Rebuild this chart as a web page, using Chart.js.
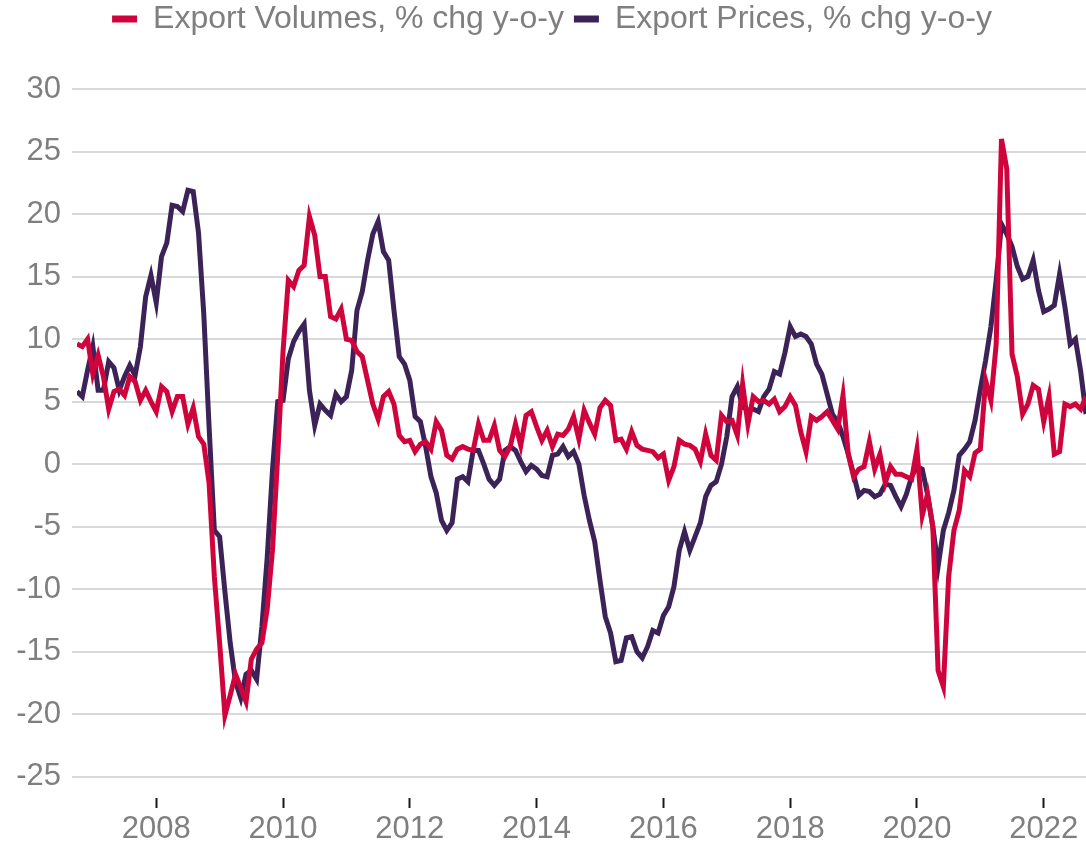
<!DOCTYPE html>
<html>
<head>
<meta charset="utf-8">
<script src="https://cdn.jsdelivr.net/npm/chart.js@4"></script>
<style>
  html, body { margin: 0; padding: 0; background: #fff; }
  #wrap { width: 1086px; height: 846px; }
</style>
</head>
<body>
<div id="wrap"><canvas id="exportChart" width="1086" height="846"></canvas></div>
<script>
// Monthly series, Oct 2006 - Sep 2022
const firstYear = 2006;
const firstMonth = 10;

// Export volumes, % chg y-o-y
const volumes = [
    9.6, 9.4, 10.0, 7.2, 8.7, 7.0, 4.4, 5.8, 6.0, 5.5,
    7.0, 6.6, 5.1, 5.9, 5.0, 4.2, 6.2, 5.8, 4.2, 5.4,
    5.4, 3.2, 4.5, 2.2, 1.6, -1.5, -9.0, -14.3, -20.1, -18.5,
    -16.8, -17.9, -19.0, -15.6, -14.8, -14.3, -11.6, -6.9, 0.7, 9.0,
    14.7, 14.2, 15.5, 15.9, 19.8, 18.3, 15.0, 15.0, 11.8, 11.6,
    12.4, 10.0, 9.9, 9.0, 8.6, 6.7, 4.8, 3.6, 5.4, 5.8,
    4.8, 2.3, 1.8, 1.9, 1.0, 1.6, 1.8, 1.2, 3.4, 2.7,
    0.7, 0.4, 1.2, 1.4, 1.2, 1.1, 3.2, 1.9, 1.9, 3.1,
    1.1, 0.6, 1.4, 3.2, 1.5, 3.9, 4.2, 3.0, 1.9, 2.7,
    1.4, 2.4, 2.3, 2.8, 3.8, 2.0, 4.3, 3.3, 2.4, 4.5,
    5.1, 4.7, 1.9, 2.0, 1.2, 2.6, 1.5, 1.2, 1.1, 1.0,
    0.5, 0.8, -1.3, -0.2, 1.9, 1.6, 1.5, 1.2, 0.2, 2.4,
    0.7, 0.3, 3.9, 3.4, 3.5, 2.3, 6.4, 3.2, 5.4, 5.0,
    5.1, 4.8, 5.2, 4.2, 4.6, 5.4, 4.7, 2.6, 1.0, 3.8,
    3.5, 3.8, 4.2, 3.5, 2.8, 5.5, 0.8, -1.0, -0.4, -0.2,
    1.8, -0.4, 0.8, -1.5, -0.2, -0.8, -0.8, -1.0, -1.2, 1.2,
    -4.1, -2.4, -5.0, -16.5, -17.8, -9.0, -5.3, -3.7, -0.5, -1.0,
    0.9, 1.2, 6.7, 5.1, 9.6, 26.0, 23.6, 8.8, 7.0, 4.0,
    4.8, 6.3, 6.0, 3.4, 5.4, 0.8, 1.0, 4.8, 4.6, 4.8,
    4.4, 5.4
];

// Export prices, % chg y-o-y
const prices = [
    5.8, 5.4, 7.5, 9.4, 5.9, 5.9, 8.2, 7.7, 5.9, 7.0,
    7.9, 7.1, 9.4, 13.4, 15.1, 12.9, 16.6, 17.7, 20.7, 20.6,
    20.2, 21.9, 21.8, 18.5, 12.0, 3.0, -5.3, -5.8, -10.2, -14.3,
    -17.4, -18.7, -16.8, -16.5, -17.2, -13.0, -7.5, -0.5, 5.0, 5.1,
    8.4, 9.8, 10.6, 11.2, 5.9, 3.1, 4.8, 4.3, 3.9, 5.6,
    5.0, 5.4, 7.5, 12.3, 13.8, 16.3, 18.4, 19.4, 17.0, 16.3,
    12.3, 8.6, 8.0, 6.7, 3.8, 3.4, 1.4, -1.0, -2.3, -4.5,
    -5.3, -4.7, -1.2, -1.0, -1.4, 1.1, 1.1, 0.0, -1.2, -1.7,
    -1.2, 1.1, 1.4, 1.1, 0.2, -0.6, -0.1, -0.4, -0.9, -1.0,
    0.7, 0.8, 1.4, 0.6, 1.0, 0.0, -2.5, -4.5, -6.2, -9.3,
    -12.2, -13.5, -15.8, -15.7, -13.9, -13.8, -15.0, -15.5, -14.6, -13.3,
    -13.5, -12.1, -11.4, -9.8, -6.9, -5.4, -6.9, -5.8, -4.7, -2.6,
    -1.7, -1.4, 0.0, 2.2, 5.4, 6.2, 4.6, 4.3, 4.4, 4.2,
    5.4, 6.0, 7.4, 7.2, 8.9, 11.0, 10.2, 10.4, 10.2, 9.6,
    8.0, 7.2, 5.6, 4.0, 3.4, 2.2, 0.8, -0.8, -2.5, -2.1,
    -2.2, -2.6, -2.4, -1.6, -1.7, -2.6, -3.4, -2.4, -1.0, -0.2,
    -0.4, -2.4, -5.0, -8.2, -5.3, -3.9, -2.1, 0.7, 1.2, 1.8,
    3.5, 6.0, 8.3, 11.0, 14.7, 19.2, 18.4, 17.4, 15.8, 14.8,
    15.0, 16.3, 13.9, 12.2, 12.4, 12.7, 15.2, 12.6, 9.6, 10.0,
    7.4, 4.0
];

// Month labels (YYYY-MM), one per value
const months = [];
for (let i = 0; i < volumes.length; i++) {
    const m = firstMonth - 1 + i;
    const y = firstYear + Math.floor(m / 12);
    months.push(y + '-' + String(m % 12 + 1).padStart(2, '0'));
}

const seriesNames = ['Export Volumes, % chg y-o-y', 'Export Prices, % chg y-o-y'];
const seriesColors = ['#d0043c', '#3b2358'];

// 'YYYY-MM' -> decimal year for the linear x axis
function toYear(label) {
    const parts = label.split('-');
    return Number(parts[0]) + (Number(parts[1]) - 1) / 12;
}

function points(values) {
    return values.map((v, i) => ({ x: toYear(months[i]), y: v }));
}

const grey = '#7f7f7f';
const fontFamily = "'Liberation Sans', Arial, sans-serif";

// Fix the legend band height and nudge it sideways
const legendBand = {
    id: 'legendBand',
    beforeInit(chart) {
        const fit = chart.legend.fit;
        chart.legend.fit = function () {
            fit.call(this);
            this.height = 96;
        };
    },
    afterLayout(chart) {
        chart.legend.left += 9;
        chart.legend.right += 9;
    }
};

new Chart(document.getElementById('exportChart'), {
    type: 'line',
    data: {
        datasets: [{
            label: seriesNames[0],
            data: points(volumes),
            borderColor: seriesColors[0],
            backgroundColor: seriesColors[0],
            borderWidth: 5,
            pointRadius: 0,
            tension: 0
        }, {
            label: seriesNames[1],
            data: points(prices),
            borderColor: seriesColors[1],
            backgroundColor: seriesColors[1],
            borderWidth: 5,
            pointRadius: 0,
            tension: 0
        }]
    },
    options: {
        responsive: false,
        animation: false,
        devicePixelRatio: 1,
        layout: { padding: { top: -7, left: 0, right: 0, bottom: 0 } },
        plugins: {
            tooltip: { enabled: false },
            legend: {
                position: 'top',
                labels: {
                    color: grey,
                    font: { family: fontFamily, size: 32 },
                    boxWidth: 25,
                    boxHeight: 7,
                    padding: 10,
                    generateLabels(c) {
                        return Chart.defaults.plugins.legend.labels.generateLabels(c)
                            .map(item => ({ ...item, lineWidth: 0 }));
                    }
                }
            }
        },
        scales: {
            x: {
                type: 'linear',
                min: toYear(months[0]),
                max: toYear(months[months.length - 1]),
                border: { display: false },
                grid: {
                    drawOnChartArea: false,
                    drawTicks: true,
                    tickLength: 10,
                    tickColor: '#1a1a1a',
                    tickWidth: 2
                },
                ticks: {
                    stepSize: 2,
                    includeBounds: false,
                    maxRotation: 0,
                    padding: 3,
                    color: grey,
                    font: { family: fontFamily, size: 31 },
                    callback: v => String(v)
                },
                afterFit(scale) { scale.height = 48; }
            },
            y: {
                min: -26.7,
                max: 30,
                border: { display: false },
                grid: {
                    color: '#d9d9d9',
                    lineWidth: 2,
                    tickLength: 5
                },
                ticks: {
                    stepSize: 5,
                    includeBounds: false,
                    padding: 11,
                    color: grey,
                    font: { family: fontFamily, size: 31 }
                },
                afterFit(scale) { scale.width = 77; }
            }
        }
    },
    plugins: [legendBand]
});
</script>
</body>
</html>
